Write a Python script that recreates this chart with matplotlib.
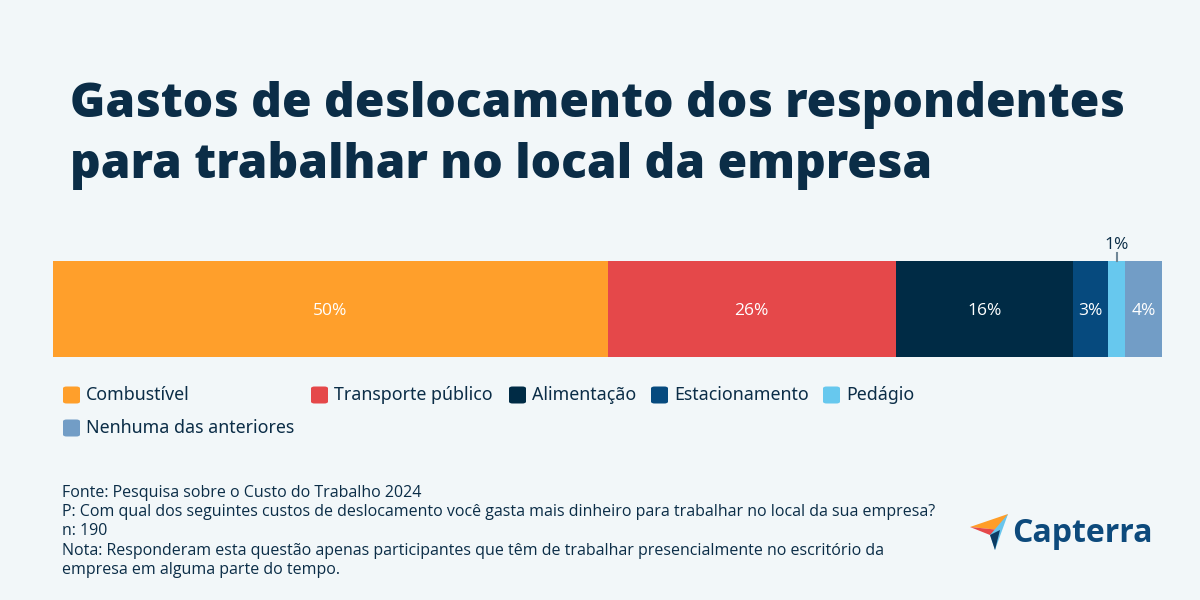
import matplotlib.pyplot as plt
from matplotlib.patches import FancyBboxPatch, Polygon

categories = ['Combustível', 'Transporte público', 'Alimentação',
              'Estacionamento', 'Pedágio', 'Nenhuma das anteriores']
values = [50, 26, 16, 3.1, 1.6, 3.3]
labels = ['50%', '26%', '16%', '3%', '1%', '4%']
colors = ['#ff9f2b', '#e5484a', '#002b45', '#064a7e', '#67c8ee', '#729dc6']

bg = '#f2f7f9'
navy = '#0b2d47'
W, H = 1200, 600

fig = plt.figure(figsize=(12, 6), dpi=100, facecolor=bg)

def fx(px):
    return px / W

def fy(py):
    return 1 - py / H

# title
fig.text(fx(70), fy(117), 'Gastos de deslocamento dos respondentes',
         fontsize=34.5, fontweight='heavy', family='Open Sans', color=navy, va='baseline')
fig.text(fx(70), fy(178), 'para trabalhar no local da empresa',
         fontsize=34.5, fontweight='heavy', family='Open Sans', color=navy, va='baseline')

# stacked bar
ax = fig.add_axes([fx(53), fy(357), fx(1109), 96 / H])
ax.set_facecolor(bg)
left = 0
for val, lab, col in zip(values, labels, colors):
    ax.barh(0, val, left=left, height=1, color=col, edgecolor='none')
    mid = left + val / 2
    if val < 2:
        ax.text(mid, 0.585, lab, ha='center', va='bottom', fontsize=12.5,
                family='Open Sans', color=navy)
        ax.plot([mid, mid], [0.5, 0.585], color='#6f8797', lw=1.5, clip_on=False)
    else:
        ax.text(mid, -0.02, lab, ha='center', va='center', fontsize=12.5,
                family='Open Sans', color='white')
    left += val
ax.set_xlim(0, sum(values))
ax.set_ylim(-0.5, 0.5)
ax.axis('off')

# legend (row-major grid)
col_x = [63, 311, 509, 651, 823]
row_y = [395, 428]
for i, (cat, col) in enumerate(zip(categories, colors)):
    r, c = divmod(i, 5)
    x, y = col_x[c], row_y[r]
    fig.patches.append(FancyBboxPatch((fx(x), fy(y + 8.5)), fx(17), 17 / H,
                                      boxstyle='round,pad=0,rounding_size=0.003',
                                      transform=fig.transFigure, facecolor=col,
                                      edgecolor='none'))
    fig.text(fx(x + 23), fy(y), cat, fontsize=12.8, family='Noto Sans',
             color=navy, va='center')

# footnotes
notes = [
    'Fonte: Pesquisa sobre o Custo do Trabalho 2024',
    'P: Com qual dos seguintes custos de deslocamento você gasta mais dinheiro para trabalhar no local da sua empresa?',
    'n: 190',
    'Nota: Responderam esta questão apenas participantes que têm de trabalhar presencialmente no escritório da',
    'empresa em alguma parte do tempo.',
]
for k, line in enumerate(notes):
    fig.text(fx(62), fy(493 + k * 19.2), line, fontsize=11.5, family='Open Sans',
             color=navy, va='center')

# Capterra logo
logo = [
    ([(970, 527), (1008, 514), (1000, 530)], '#ff9d28'),
    ([(970, 527), (1000, 530), (990, 535)], '#e5484a'),
    ([(1008, 514), (990, 535), (995, 550)], '#68c5ed'),
    ([(990, 535), (1000, 530), (995, 550)], '#0b3b63'),
]
for pts, col in logo:
    fig.patches.append(Polygon([(fx(px), fy(py)) for px, py in pts],
                               closed=True, transform=fig.transFigure,
                               facecolor=col, edgecolor='none'))
fig.text(fx(1012), fy(533), 'Capterra', fontsize=23, fontweight='bold',
         family='Open Sans', color='#0d4a7c', va='center')

fig.savefig('out.png', dpi=100, facecolor=bg)
